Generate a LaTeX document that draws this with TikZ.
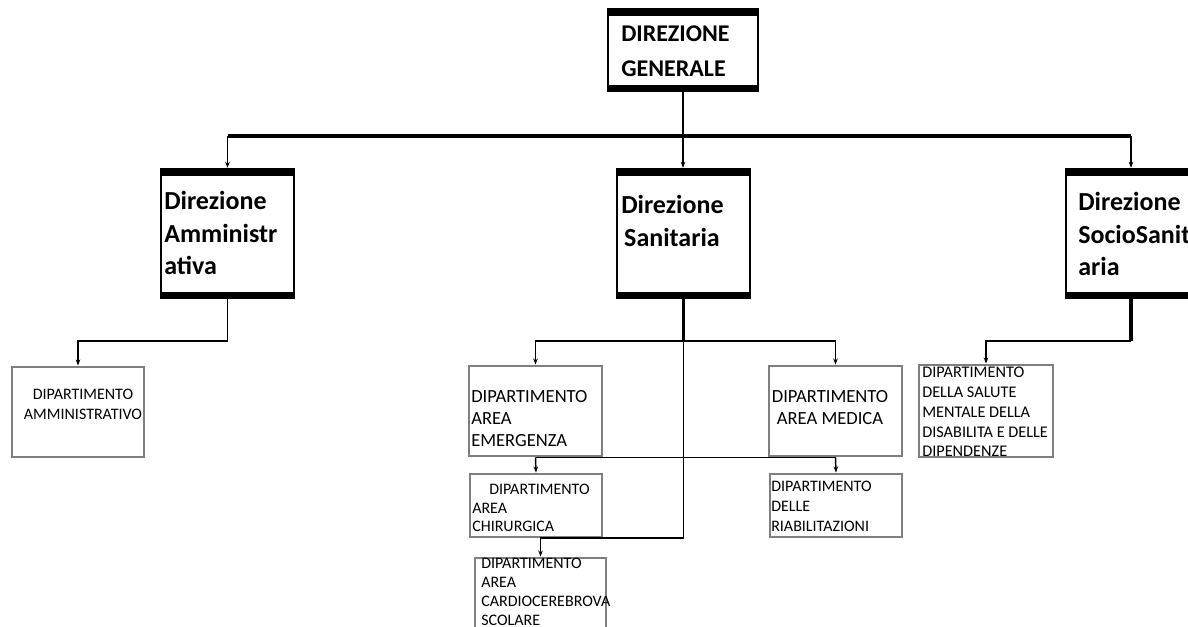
\documentclass[tikz,border=0pt]{standalone}
\usepackage{fontspec}
\setmainfont{Carlito}
\usetikzlibrary{arrows.meta,fit}
\definecolor{boxgray}{HTML}{7F7F7F}
\begin{document}
\begin{tikzpicture}[x=0.75pt,y=-0.75pt,
  bigbox/.style={draw, line width=1.8pt, inner sep=0pt,
    path picture={\fill (path picture bounding box.north west) rectangle ([yshift=-5.5pt]path picture bounding box.north east);
                  \fill (path picture bounding box.south west) rectangle ([yshift=4.5pt]path picture bounding box.south east);}},
  gbox/.style={draw=boxgray, line width=2.2pt, inner sep=0pt},
  btxt/.style={font=\fontsize{19.5}{24.4}\selectfont\bfseries, align=left, inner sep=0pt, anchor=north west},
  stxt/.style={font=\fontsize{12}{14.4}\selectfont, align=left, inner sep=0pt, anchor=north west},
  conn/.style={line width=1.1pt},
  thickc/.style={line width=2.6pt},
  bus/.style={line width=3.6pt},
  arr/.style={conn, -{Stealth[length=4.5pt,width=3.4pt]}}
]
\useasboundingbox (0,0) rectangle (1188,627);
\clip (0,0) rectangle (1188,627);

% boxes
\node[bigbox, fit={(608,9) (758,91)}] (dg) {};
\node[bigbox, fit={(161,169) (294,298)}] (damm) {};
\node[bigbox, fit={(617,169) (750,298)}] (dsan) {};
\node[bigbox, fit={(1066,169) (1196,298)}] (dsoc) {};

\node[gbox, fit={(12,367) (144,457)}] (dadm) {};
\node[gbox, fit={(469,366) (602,456)}] (demer) {};
\node[gbox, fit={(769,366) (902,456)}] (dmed) {};
\node[gbox, fit={(470,474) (602,537)}] (dchir) {};
\node[gbox, fit={(770,474) (902,537)}] (driab) {};
\node[gbox, fit={(475,558) (606,650)}] (dcard) {};
\node[gbox, fit={(919,365) (1053,457)}] (dsal) {};

% texts
\node[btxt, font=\fontsize{18}{26.25}\selectfont\bfseries] (tdg) at (621,25) {DIREZIONE\\GENERALE};
\node[btxt] (tamm) at (164,191) {Direzione\\Amministr\\ativa};
\node[btxt] (tsan) at (621,195) {Direzione\\\hspace*{2.2pt}Sanitaria};
\node[btxt] (tsoc) at (1078,192) {Direzione\\SocioSanit\\aria};

\node[stxt, anchor=north, align=center, font=\fontsize{12}{14.6}\selectfont] (tadm) at (83,389) {DIPARTIMENTO\\AMMINISTRATIVO};
\node[stxt, font=\fontsize{13.9}{16.5}\selectfont] (temer) at (471,390) {DIPARTIMENTO\\AREA\\EMERGENZA};
\node[stxt, anchor=north, align=center, font=\fontsize{13.9}{16.5}\selectfont] (tmed) at (830,390) {DIPARTIMENTO\\AREA MEDICA};
\node[stxt, font=\fontsize{12}{13.9}\selectfont] (tchir) at (472,484) {\hspace*{12.75pt}DIPARTIMENTO\\AREA\\CHIRURGICA};
\node[stxt, font=\fontsize{12}{15}\selectfont] (triab) at (771,481) {DIPARTIMENTO\\DELLE\\RIABILITAZIONI};
\node[stxt, font=\fontsize{12}{14.1}\selectfont] (tcard) at (481,558) {DIPARTIMENTO\\AREA\\CARDIOCEREBROVA\\SCOLARE};
\node[stxt, font=\fontsize{12.2}{14.8}\selectfont] (tsal) at (922,367) {DIPARTIMENTO\\DELLA SALUTE\\MENTALE DELLA\\DISABILITA E DELLE\\DIPENDENZE};

% top level connectors
\coordinate (busL) at (227.5,136);
\coordinate (busR) at (1131,136);
\draw[bus] (busL) -- (busR);
\draw[arr] (dg.south) -- (dg.south |- dsan.north);
\draw[arr] (busL) -- (busL |- damm.north);
\draw[arr] (busR) -- (busR |- dsoc.north);

% amministrativa
\coordinate (jamm) at (227.5,341);
\draw[conn] (damm.south) -- (jamm);
\draw[arr] (jamm) -| (dadm.north);

% sanitaria
\coordinate (jsan) at (683.5,341);
\draw[thickc] (dsan.south) -- (jsan);
\draw[arr] (jsan) -| (demer.north);
\draw[arr] (jsan) -| (dmed.north);
\coordinate (jcard) at (683.5,538);
\draw[conn] (jsan) -- (jcard);
\draw[arr] (jcard) -| (dcard.north);
\draw[conn] (demer.south) -- (dmed.south);
\draw[arr] (demer.south) -- (dchir.north);
\draw[arr] (dmed.south) -- (driab.north);

% sociosanitaria
\coordinate (jsoc) at (1131,341);
\draw[thickc] (dsoc.south) -- (jsoc);
\draw[arr] (jsoc) -| (dsal.north);
\end{tikzpicture}
\end{document}
